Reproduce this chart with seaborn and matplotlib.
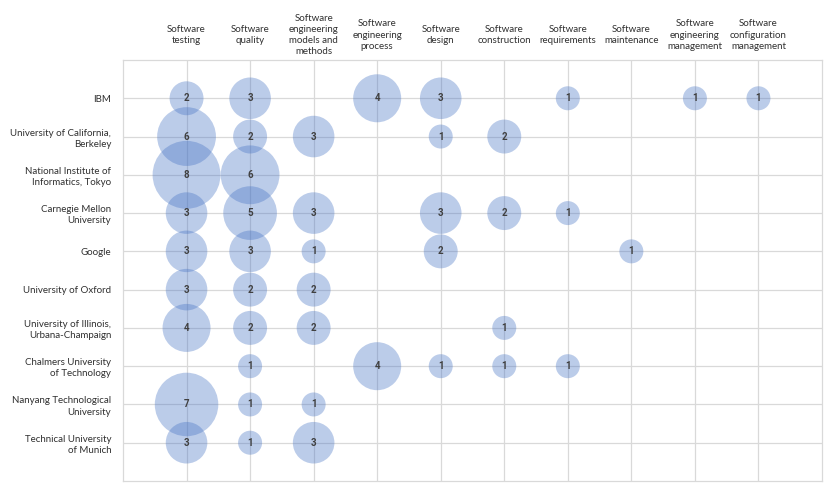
import matplotlib
matplotlib.use("Agg")
import matplotlib.pyplot as plt
import seaborn as sns
import pandas as pd

topics = ["Software\ntesting", "Software\nquality", "Software\nengineering\nmodels and\nmethods",
          "Software\nengineering\nprocess", "Software\ndesign", "Software\nconstruction",
          "Software\nrequirements", "Software\nmaintenance", "Software\nengineering\nmanagement",
          "Software\nconfiguration\nmanagement"]
institutions = ["IBM", "University of California,\nBerkeley", "National Institute of\nInformatics, Tokyo",
                "Carnegie Mellon\nUniversity", "Google", "University of Oxford",
                "University of Illinois,\nUrbana-Champaign", "Chalmers University\nof Technology",
                "Nanyang Technological\nUniversity", "Technical University\nof Munich"]

ibm        = [2, 3, 0, 4, 3, 0, 1, 0, 1, 1]
berkeley   = [6, 2, 3, 0, 1, 2, 0, 0, 0, 0]
nii_tokyo  = [8, 6, 0, 0, 0, 0, 0, 0, 0, 0]
cmu        = [3, 5, 3, 0, 3, 2, 1, 0, 0, 0]
google     = [3, 3, 1, 0, 2, 0, 0, 1, 0, 0]
oxford     = [3, 2, 2, 0, 0, 0, 0, 0, 0, 0]
illinois   = [4, 2, 2, 0, 0, 1, 0, 0, 0, 0]
chalmers   = [0, 1, 0, 4, 1, 1, 1, 0, 0, 0]
nanyang    = [7, 1, 1, 0, 0, 0, 0, 0, 0, 0]
tum        = [3, 1, 3, 0, 0, 0, 0, 0, 0, 0]
matrix = [ibm, berkeley, nii_tokyo, cmu, google, oxford, illinois, chalmers, nanyang, tum]

rows = []
for i, vals in enumerate(matrix):
    for j, v in enumerate(vals):
        if v > 0:
            rows.append({"col": j + 1, "row": i + 1, "value": v})
df = pd.DataFrame(rows)

sns.set_theme(style="white")
plt.rcParams["font.family"] = ["Lato", "DejaVu Sans"]

W, H = 830, 487
fig = plt.figure(figsize=(W / 100, H / 100), dpi=100)
ax = fig.add_axes([123 / W, 6 / H, (822 - 123) / W, (481 - 60) / H])

grid_c = "#D9D9D9"
for k in range(1, 11):
    ax.axvline(k, color=grid_c, lw=0.9, zorder=0)
    ax.axhline(k, color=grid_c, lw=0.9, zorder=0)

# diameter ~24 px for value 1 -> area proportional to value
k = (24 * 0.72) ** 2
sns.scatterplot(data=df, x="col", y="row", size="value", sizes=(k * 1, k * 8),
                size_norm=(1, 8), color="#4472C4", alpha=0.36, edgecolor="none",
                legend=False, ax=ax, zorder=2)

for _, r in df.iterrows():
    ax.text(r["col"], r["row"], str(int(r["value"])), ha="center", va="center",
            fontsize=7, fontweight="bold", color="#404040", zorder=3,
            family=["Roboto", "DejaVu Sans"])

ax.set_xlim(0, 11)
ax.set_ylim(11, 0)
ax.set_xlabel("")
ax.set_ylabel("")
ax.set_xticks([])
ax.set_yticks(range(1, 11))
ax.set_yticklabels(institutions, fontsize=7, color="#303030", ha="right",
                   linespacing=1.3)
ax.tick_params(axis="y", length=0, pad=8.5)
for s in ax.spines.values():
    s.set_color(grid_c)
    s.set_linewidth(0.9)

trans = ax.get_xaxis_transform()
for j, t in enumerate(topics):
    ax.text(j + 1, 1 + 25 / 421, t, transform=trans, ha="center", va="center",
            fontsize=7, color="#303030", linespacing=1.3)

fig.savefig("out.png", dpi=100)
